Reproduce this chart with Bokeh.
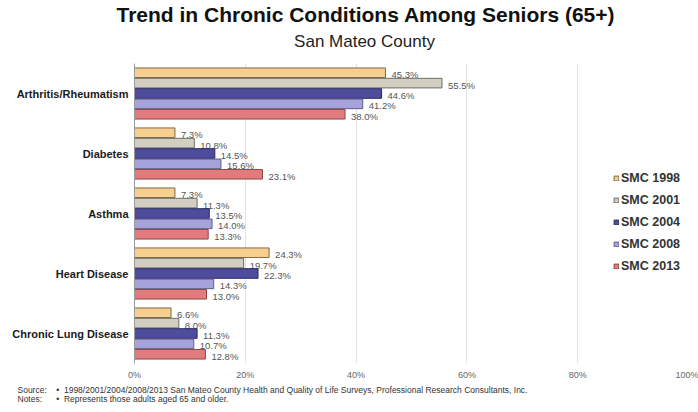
from bokeh.plotting import figure
from bokeh.models import (FactorRange, Range1d, Legend, LegendItem, Title,
                          PrintfTickFormatter, FixedTicker, ColumnDataSource)
from bokeh.transform import dodge
from bokeh.core.properties import value
from bokeh.embed import file_html
from bokeh.resources import INLINE

categories = ["Arthritis/Rheumatism", "Diabetes", "Asthma", "Heart Disease", "Chronic Lung Disease"]
series_names = ["SMC 1998", "SMC 2001", "SMC 2004", "SMC 2008", "SMC 2013"]
smc_1998 = [45.3, 7.3, 7.3, 24.3, 6.6]
smc_2001 = [55.5, 10.8, 11.3, 19.7, 8.0]
smc_2004 = [44.6, 14.5, 13.5, 22.3, 11.3]
smc_2008 = [41.2, 15.6, 14.0, 14.3, 10.7]
smc_2013 = [38.0, 23.1, 13.3, 13.0, 12.8]
x_ticks = [0, 20, 40, 60, 80, 100]

title_text = "Trend in Chronic Conditions Among Seniors (65+)"
subtitle_text = "San Mateo County"
NB = "\u00a0"
footnote_text = ("Source:" + NB * 4 + "\u2022" + NB * 2 +
                 "1998/2001/2004/2008/2013 San Mateo County Health and Quality of Life Surveys, Professional Research Consultants, Inc.\n" +
                 "Notes:" + NB * 6 + "\u2022" + NB * 2 + "Represents those adults aged 65 and older.")

series_values = [smc_1998, smc_2001, smc_2004, smc_2008, smc_2013]
fills = ["#F6CF8F", "#D2CFC2", "#4E4C9C", "#A6A2DC", "#E27B7B"]
edges = ["#7d6a4a", "#6e6c66", "#2c2b5e", "#5f5c8c", "#8e4545"]
offsets = [0.346, 0.173, 0.0, -0.173, -0.346]

FONT = "Liberation Sans"
FRAME_LEFT = 134

p = figure(width=698, height=412,
           y_range=FactorRange(factors=categories[::-1]),
           x_range=Range1d(0, 100),
           output_backend="svg", toolbar_location=None, title=None,
           min_border_left=FRAME_LEFT, min_border_right=10,
           min_border_top=63, min_border_bottom=49)
p.outline_line_color = None

items = []
for name, vals, fc, lc, off in zip(series_names, series_values, fills, edges, offsets):
    src = ColumnDataSource(dict(cat=categories, val=vals,
                                lab=["%.1f%%" % v for v in vals]))
    r = p.hbar(y=dodge("cat", off, range=p.y_range), right="val", left=0,
               height=0.16, source=src, fill_color=fc, line_color=lc, line_width=1)
    p.text(x="val", y=dodge("cat", off, range=p.y_range), text="lab", source=src,
           x_offset=6, y_offset=2, text_font=value(FONT), text_font_size="9.5px",
           text_color="#555555", text_baseline="middle", text_align="left")
    items.append(LegendItem(label=name, renderers=[r]))

legend = Legend(items=items, location=(479, 90), orientation="vertical",
                glyph_width=6, glyph_height=6, label_height=12, spacing=8,
                label_standoff=2, padding=0, margin=0,
                label_text_font=FONT, label_text_font_style="bold",
                label_text_font_size="12.5px", label_text_color="#333333",
                background_fill_alpha=0, border_line_alpha=0)
p.add_layout(legend)

p.xaxis.ticker = FixedTicker(ticks=x_ticks)
p.xaxis.formatter = PrintfTickFormatter(format="%d%%")
p.xaxis.axis_line_color = None
p.xaxis.major_tick_line_color = None
p.xaxis.minor_tick_line_color = None
p.xaxis.major_tick_out = 0
p.xaxis.major_tick_in = 0
p.xaxis.major_label_text_font = FONT
p.xaxis.major_label_text_font_size = "9px"
p.xaxis.major_label_text_color = "#666666"
p.xaxis.major_label_standoff = 6

p.yaxis.axis_line_color = "#9a9a9a"
p.yaxis.major_tick_line_color = None
p.yaxis.minor_tick_line_color = None
p.yaxis.major_tick_out = 0
p.yaxis.major_tick_in = 0
p.yaxis.major_label_text_font = FONT
p.yaxis.major_label_text_font_style = "bold"
p.yaxis.major_label_text_font_size = "11px"
p.yaxis.major_label_text_color = "#1a1a1a"
p.yaxis.major_label_standoff = 6

p.xgrid.grid_line_color = "#e3e3e3"
p.ygrid.grid_line_color = None

# titles (first added sits nearest the frame)
p.add_layout(Title(text=subtitle_text, align="left", offset=293.6 - FRAME_LEFT,
                   vertical_align="top", standoff=22,
                   text_font=FONT, text_font_size="17px", text_font_style="normal",
                   text_color="#222222"), "above")
p.add_layout(Title(text=title_text, align="left", offset=116 - FRAME_LEFT,
                   vertical_align="top", standoff=-16.5,
                   text_font=FONT, text_font_size="21px", text_font_style="bold",
                   text_color="#111111"), "above")

p.add_layout(Title(text=footnote_text, align="left", offset=17 - FRAME_LEFT,
                   vertical_align="top", standoff=5.8, text_line_height=0.82,
                   text_font=FONT, text_font_size="8.5px", text_font_style="normal",
                   text_color="#333333"), "below")

open("out.html", "w").write(file_html(p, INLINE))
